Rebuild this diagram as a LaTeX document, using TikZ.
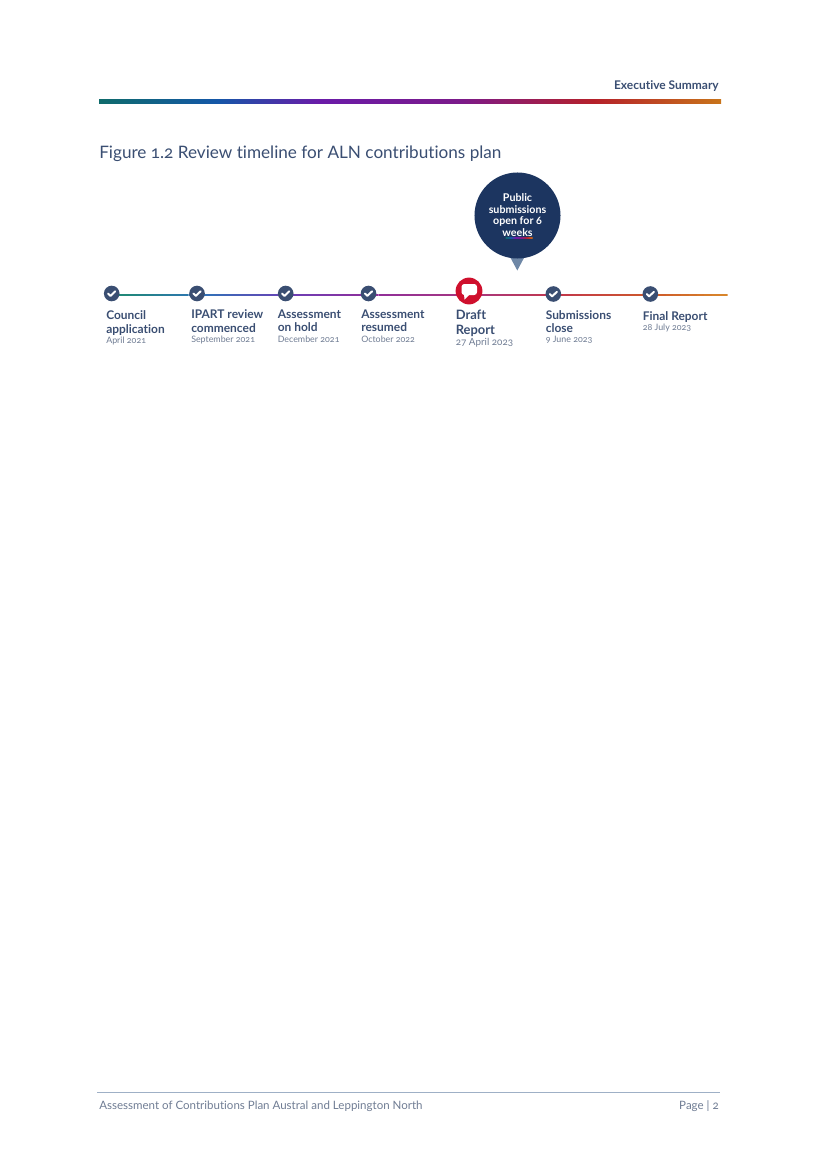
\documentclass[tikz,border=0pt]{standalone}
\usepackage{fontspec}
\setmainfont[Numbers=OldStyle,Ligatures=NoCommon]{Lato}
\usepackage{xcolor}
\usetikzlibrary{positioning,calc,backgrounds}
\definecolor{navy}{HTML}{1C3560}
\definecolor{slate}{HTML}{3A4E72}
\definecolor{dateg}{HTML}{6F7C93}
\definecolor{tail}{HTML}{6E87A6}
\definecolor{redd}{HTML}{CF102D}
\definecolor{ruleg}{HTML}{9FB0C6}
\definecolor{cA}{HTML}{1F8A72}
\definecolor{cB}{HTML}{2F74B8}
\definecolor{cC}{HTML}{6C3FB5}
\definecolor{cD}{HTML}{8F2E9A}
\definecolor{cE}{HTML}{A8377F}
\definecolor{cF}{HTML}{C2374A}
\definecolor{cG}{HTML}{CE5A2A}
\definecolor{cH}{HTML}{D98A2B}
\definecolor{rA}{HTML}{0F6B6B}
\definecolor{rB}{HTML}{1457A8}
\definecolor{rC}{HTML}{6A1BA8}
\definecolor{rD}{HTML}{7B1A8A}
\definecolor{rE}{HTML}{B5202A}
\definecolor{rF}{HTML}{C8741A}
\pgfdeclarehorizontalshading{rainbow}{100bp}{
  color(0bp)=(rA); color(25bp)=(rA); color(34.5bp)=(rB); color(42.75bp)=(rC);
  color(54bp)=(rD); color(64.75bp)=(rE); color(75bp)=(rF); color(100bp)=(rF)}
\tikzset{
  check/.style={circle,fill=slate,minimum size=0.39cm,inner sep=0pt,
    path picture={\draw[white,line width=1.4pt,line cap=round,line join=round]
      ($(path picture bounding box.center)+(-3.6,0)$) -- ++(2.4,2.4) -- ++(4.8,-4.6);}},
  head/.style={font=\fontsize{8.5}{9.6}\selectfont\bfseries,text=slate,align=left,anchor=north west,inner sep=0pt},
  date/.style={font=\fontsize{6.3}{7}\selectfont,text=dateg,anchor=north west,inner sep=0pt},
  foot/.style={font=\fontsize{8.2}{10}\selectfont,text=dateg,inner sep=0pt}
}
\begin{document}
\begin{tikzpicture}[x=0.025cm,y=-0.025cm]
	\useasboundingbox (0,0) rectangle (816,1155);
	% header
	\node[font=\fontsize{8.5}{9}\selectfont\bfseries,text=slate,inner sep=0pt,anchor=east] (header) at (719,86) {Executive Summary};
	\shade[shading=rainbow] (99,99.5) rectangle (721,103.5);
	\node[font=\fontsize{12.2}{15}\selectfont,text=slate,inner sep=0pt,anchor=west] (title) at (99,153.5) {Figure 1.2 Review timeline for ALN contributions plan};
	% bubble
	\fill[tail] (509.5,256) -- (525,256) -- (517.3,270.5) -- cycle;
	\node[circle,fill=navy,minimum size=2.15cm,inner sep=0pt] (bubble) at (517.5,215.5) {};
	\node[font=\fontsize{7.6}{8.3}\selectfont\bfseries,text=white,align=center,inner sep=0pt] (bubbletext) at (517.5,215) {Public\\submissions\\open for 6\\weeks};
	\shade[shading=rainbow] (505.5,237.2) rectangle (532.5,238.4);
	% timeline
	\node[check] (n1) at (111.7,293.5) {};
	\node[check] (n2) at (197,293.5) {};
	\node[check] (n3) at (285.7,293.5) {};
	\node[check] (n4) at (368.5,293.5) {};
	\node[circle,fill=redd,minimum size=0.67cm,inner sep=0pt] (n5) at (469,291) {};
	\node[check] (n6) at (553.3,294) {};
	\node[check] (n7) at (650.3,294) {};
	\coordinate (tlend) at (727.5,295);
	% speech icon
	\fill[white,rounded corners=2] (461.5,284) rectangle (477,295);
	\fill[white] (464,294) -- (464.5,299.5) -- (470,294) -- cycle;
	\begin{scope}[on background layer]
		\foreach \a/\b/\ca/\cb in {n1/n2/cA/cB,n2/n3/cB/cC,n3/n4/cC/cD,n4/n5/cD/cE,n5/n6/cE/cF,n6/n7/cF/cG,n7/tlend/cG/cH}
			\foreach \t in {0,10,...,90}
				\draw[line width=1.1pt,\cb!\t!\ca] ($(\a|-tlend)!{\t/100}!(\b|-tlend)$) -- ($(\a|-tlend)!{(\t+10)/100}!(\b|-tlend)$);
	\end{scope}
	% labels
	\node[head] (h1) at (106,310.5) {Council\\application};
	\node[date] (d1) at (106,336.5) {April 2021};
	\node[head] (h2) at (191,309.5) {IPART review\\commenced};
	\node[date] (d2) at (191,335.5) {September 2021};
	\node[head] (h3) at (277.5,309.5) {Assessment\\on hold};
	\node[date] (d3) at (277.5,335.5) {December 2021};
	\node[head] (h4) at (361,309.5) {Assessment\\resumed};
	\node[date] (d4) at (361,335.5) {October 2022};
	\node[head,font=\fontsize{9.2}{10.6}\selectfont\bfseries] (h5) at (455.5,309.5) {Draft\\Report};
	\node[date,font=\fontsize{7}{8}\selectfont] (d5) at (455.5,337.5) {27 April 2023};
	\node[head] (h6) at (545.5,310) {Submissions\\close};
	\node[date] (d6) at (545.5,336) {9 June 2023};
	\node[head] (h7) at (642.5,311) {Final Report};
	\node[date] (d7) at (642.5,323.5) {28 July 2023};
	% footer
	\coordinate (footl) at (97,1092);
	\coordinate (footr) at (720,1092);
	\draw[ruleg,line width=0.7pt] (footl) -- (footr);
	\node[foot,anchor=west] (footer) at (99,1106) {Assessment of Contributions Plan Austral and Leppington North};
	\node[foot,anchor=east] (page) at (719,1106) {Page | 2};
\end{tikzpicture}
\end{document}
